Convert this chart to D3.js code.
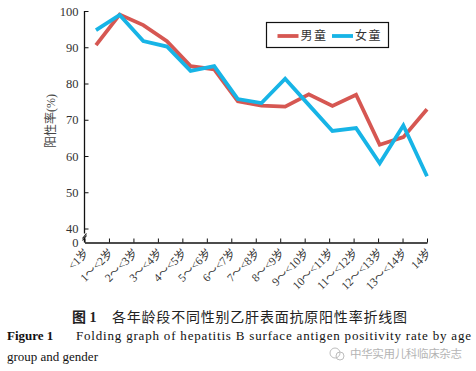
<!DOCTYPE html>
<html><head><meta charset="utf-8">
<script src="https://cdn.jsdelivr.net/npm/d3@7"></script>
<style>body{margin:0;background:#fff;} svg{display:block;}</style>
</head><body>
<svg id="c" width="476" height="371"></svg>
<script>
const categories = ["<1岁","1～<2岁","2～<3岁","3～<4岁","4～<5岁","5～<6岁","6～<7岁","7～<8岁","8～<9岁","9～<10岁","10～<11岁","11～<12岁","12～<13岁","13～<14岁","14岁"];
const maleValues = [90.6, 99.0, 96.1, 91.7, 84.8, 83.9, 75.1, 73.9, 73.6, 77.0, 73.8, 76.9, 63.1, 65.2, 72.9];
const femaleValues = [94.7, 98.9, 91.7, 90.2, 83.5, 84.8, 75.7, 74.6, 81.3, 74.1, 66.9, 67.7, 58.0, 68.4, 54.4];
const yTicks = [40, 50, 60, 70, 80, 90, 100];
const seriesNames = ["男童", "女童"];
const colors = ["#d65752", "#17b4e6"];

const svg = d3.select("#c");
const serif = "'Liberation Serif','DejaVu Serif','Noto Sans CJK SC',serif";
const axisX = 84.5, axisBottom = 242.5;

const y = d3.scaleLinear().domain([40, 100]).range([228.5, 11]);
const xPt = d3.scalePoint().domain(categories).range([96, 427]);
const xTick = d3.scalePoint().domain(categories).range([axisX, 427]);

// Y axis ticks (inward) and labels
const yAxis = d3.axisLeft(y).tickValues(yTicks).tickSize(-4).tickPadding(6).tickFormat(d3.format("d"));
const gy = svg.append("g").attr("transform", `translate(${axisX},0)`).call(yAxis);
gy.select(".domain").remove();
gy.selectAll("line").attr("stroke", "#111");
gy.selectAll("text").attr("font-family", serif).attr("font-size", 12.5).attr("fill", "#333");
svg.append("text").attr("x", axisX - 6).attr("y", axisBottom).attr("dy", "0.32em")
  .attr("text-anchor", "end").attr("font-family", serif).attr("font-size", 12.5).attr("fill", "#333").text("0");

// Y axis line with break
svg.append("line").attr("x1", axisX).attr("x2", axisX).attr("y1", y(100)).attr("y2", axisBottom - 9)
  .attr("stroke", "#111").attr("stroke-width", 1.3);
svg.append("line").attr("x1", axisX).attr("x2", axisX).attr("y1", axisBottom - 5).attr("y2", axisBottom)
  .attr("stroke", "#111").attr("stroke-width", 1.3);
svg.append("path").attr("d", `M${axisX-2},${axisBottom-4} L${axisX+2},${axisBottom-9}`)
  .attr("stroke", "#111").attr("stroke-width", 1.1).attr("fill", "none");
svg.append("path").attr("d", `M${axisX-2},${axisBottom-2} L${axisX+2},${axisBottom-7}`)
  .attr("stroke", "#111").attr("stroke-width", 1.1).attr("fill", "none");

// X axis
const xAxis = d3.axisBottom(xTick).tickSize(-4).tickSizeOuter(0).tickFormat("");
const gx = svg.append("g").attr("transform", `translate(0,${axisBottom})`).call(xAxis);
gx.select(".domain").attr("stroke", "#111").attr("stroke-width", 1.3);
gx.selectAll("line").attr("stroke", "#111");

// X labels rotated
svg.append("g").selectAll("text").data(categories).join("text")
  .attr("transform", d => `translate(${xTick(d) + 5},${axisBottom + 11}) rotate(-45)`)
  .attr("text-anchor", "end")
  .attr("font-family", serif).attr("font-size", 11.5).attr("fill", "#333")
  .text(d => d);

// Y title
svg.append("text").attr("transform", "translate(55,121) rotate(-90)")
  .attr("text-anchor", "middle").attr("font-family", serif).attr("font-size", 12).attr("fill", "#444")
  .text("阳性率(%)");

// Lines
const line = d3.line().x((d, i) => xPt(categories[i])).y(d => y(d));
[maleValues, femaleValues].forEach((vals, i) => {
  svg.append("path").datum(vals).attr("d", line)
    .attr("fill", "none").attr("stroke", colors[i]).attr("stroke-width", 3.8);
});

// Legend
const lg = svg.append("g");
lg.append("rect").attr("x", 266.5).attr("y", 22.5).attr("width", 122).attr("height", 25)
  .attr("fill", "#fff").attr("stroke", "#111").attr("stroke-width", 1.2);
const legX = [277.5, 332];
seriesNames.forEach((n, i) => {
  lg.append("line").attr("x1", legX[i]).attr("x2", legX[i] + 21).attr("y1", 36).attr("y2", 36)
    .attr("stroke", colors[i]).attr("stroke-width", 3.8);
  lg.append("text").attr("x", legX[i] + 23).attr("y", 36).attr("dy", "0.36em")
    .attr("font-family", serif).attr("font-size", 12).attr("letter-spacing", 1.5).attr("fill", "#333").text(n);
});

// Captions
const cap = svg.append("text").attr("x", 72).attr("y", 322).attr("font-family", serif).attr("font-size", 14).attr("fill", "#222");
cap.append("tspan").attr("font-weight", "bold").text("图 1");
cap.append("tspan").attr("x", 112).attr("textLength", 295).attr("lengthAdjust", "spacing").text("各年龄段不同性别乙肝表面抗原阳性率折线图");

const en = svg.append("text").attr("x", 7).attr("y", 340).attr("font-family", serif).attr("font-size", 13).attr("fill", "#111");
en.append("tspan").attr("font-weight", "bold").text("Figure 1");
en.append("tspan").attr("x", 76).attr("textLength", 395).attr("lengthAdjust", "spacing").text("Folding graph of hepatitis B surface antigen positivity rate by age");
svg.append("text").attr("x", 7).attr("y", 361).attr("font-family", serif).attr("font-size", 13).attr("fill", "#111")
  .text("group and gender");

// Watermark
const wm = svg.append("g").attr("opacity", 0.55);
wm.append("circle").attr("cx", 335).attr("cy", 353).attr("r", 5).attr("fill", "none").attr("stroke", "#888").attr("stroke-width", 1);
wm.append("circle").attr("cx", 340).attr("cy", 356).attr("r", 4).attr("fill", "none").attr("stroke", "#888").attr("stroke-width", 1);
wm.append("text").attr("x", 350).attr("y", 358).attr("font-family", "'Noto Sans CJK SC',sans-serif")
  .attr("font-size", 11.5).attr("fill", "#777").attr("textLength", 112).attr("lengthAdjust", "spacing").text("中华实用儿科临床杂志");
</script>
</body></html>
